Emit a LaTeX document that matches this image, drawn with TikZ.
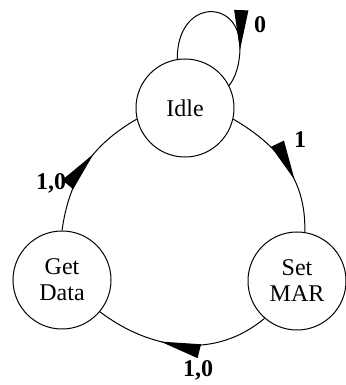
\documentclass[tikz,border=0pt]{standalone}
\usepackage{fontspec}
\setmainfont{Liberation Serif}
\usetikzlibrary{arrows.meta,decorations.markings}

\begin{document}
\begin{tikzpicture}[x=0.5pt,y=0.5pt,line width=0.5pt,
  state/.style={circle,draw,minimum size=49pt,inner sep=0pt,align=center,
    font=\fontsize{12}{13}\selectfont},
  lbl/.style={font=\fontsize{12}{13}\selectfont\bfseries,inner sep=1pt},
  midarrow/.style={postaction={decorate},decoration={markings,
    mark=at position #1 with {\arrow{Triangle[length=20pt,width=7pt]}}}}]
  \useasboundingbox (0,0) rectangle (345,385);

  % States
  \node[state] (idle) at (185,277) {Idle};
  \node[state] (mar) at (297,104) {Set\\MAR};
  \node[state] (data) at (62,105) {Get\\Data};

  % Transitions
  \draw[midarrow=0.76] (idle.99) .. controls (177,387) and (240,387) .. (240,338)
    .. controls (240,322) and (236,308) .. (idle.27);
  \draw[midarrow=0.62] (idle.-13) to[out=-30,in=88] (mar.81);
  \draw[midarrow=0.62] (mar.229) to[out=-140,in=-37] (data.-40);
  \draw[midarrow=0.6] (data.north) to[out=82,in=-150] (idle.193);

  % Labels
  \node[lbl] (l0) at (260,360) {0};
  \node[lbl] (l1) at (300,245) {1};
  \node[lbl] (l2) at (51,202) {1,0};
  \node[lbl] (l3) at (198,15) {1,0};
\end{tikzpicture}
\end{document}
